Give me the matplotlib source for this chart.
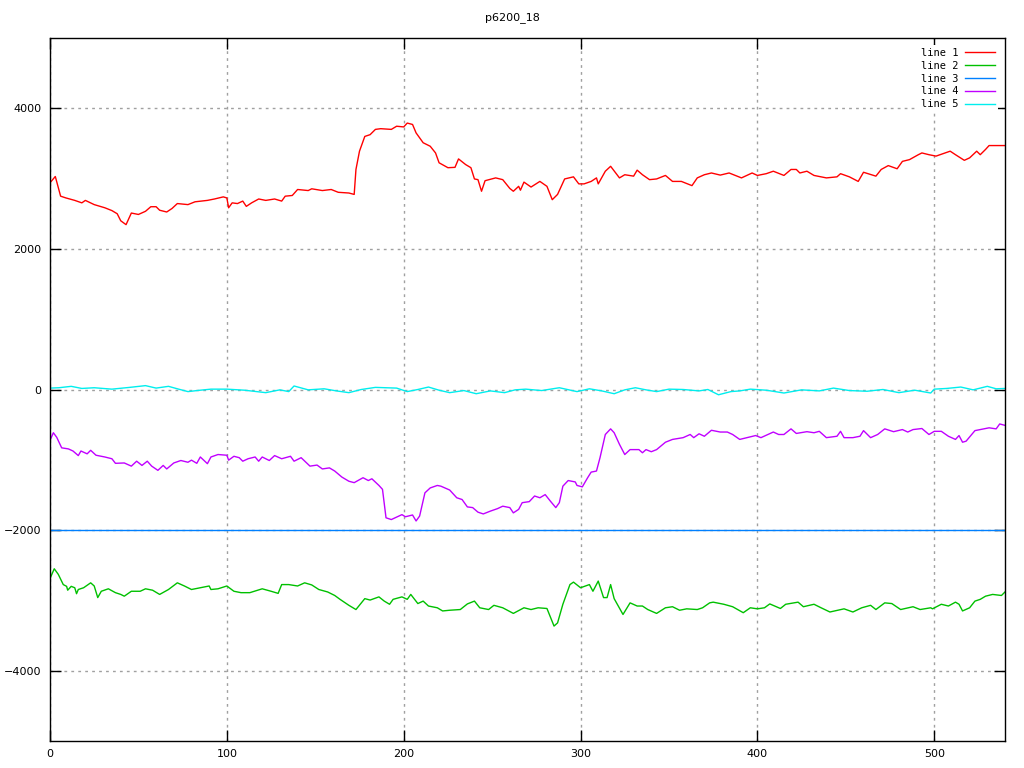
import matplotlib
matplotlib.use("Agg")
import matplotlib.pyplot as plt

TITLE = "p6200_18"

# line 1 (red)
x1 = [0, 3, 6, 9, 14, 18, 20, 25, 31, 35, 38, 40, 43, 46, 50, 54, 57, 60, 62, 66,
      69, 72, 78, 82, 89, 93, 98, 100, 101, 103, 106, 109, 111, 114, 118, 122, 127,
      131, 133, 137, 140, 146, 148, 154, 159, 163, 169, 172, 173, 175, 178, 181, 184,
      187, 193, 196, 200, 202, 205, 207, 211, 215, 218, 220, 225, 229, 231, 235, 238,
      240, 242, 244, 246, 252, 256, 260, 262, 265, 266, 268, 272, 277, 281, 284, 287,
      291, 296, 299, 302, 306, 309, 310, 314, 317, 322, 325, 330, 332, 335, 339, 343,
      348, 352, 357, 363, 366, 370, 374, 379, 384, 391, 397, 400, 405, 409, 415, 419,
      422, 424, 428, 432, 439, 445, 447, 452, 457, 460, 467, 470, 474, 479, 482, 486,
      491, 493, 497, 501, 505, 509, 512, 517, 520, 524, 526, 529, 531, 535, 540]
y1 = [2940, 3030, 2750, 2725, 2690, 2655, 2690, 2630, 2585, 2545, 2500, 2400, 2345,
      2510, 2490, 2535, 2600, 2600, 2550, 2525, 2575, 2645, 2630, 2670, 2690, 2710,
      2740, 2725, 2585, 2655, 2645, 2680, 2605, 2655, 2710, 2690, 2710, 2680, 2750,
      2760, 2845, 2830, 2855, 2830, 2845, 2805, 2795, 2775, 3130, 3390, 3600, 3625,
      3700, 3710, 3700, 3745, 3735, 3790, 3770, 3650, 3510, 3460, 3365, 3225, 3155,
      3160, 3280, 3200, 3155, 2995, 2985, 2820, 2970, 3010, 2985, 2860, 2820, 2890,
      2835, 2950, 2880, 2960, 2890, 2700, 2775, 2995, 3025, 2925, 2925, 2960, 3010,
      2925, 3105, 3175, 3010, 3055, 3035, 3120, 3055, 2985, 2995, 3045, 2960, 2960,
      2900, 3010, 3055, 3080, 3050, 3080, 3010, 3080, 3045, 3070, 3105, 3045, 3130,
      3130, 3080, 3105, 3045, 3010, 3025, 3070, 3025, 2960, 3090, 3035, 3130, 3185,
      3140, 3245, 3270, 3340, 3365, 3340, 3320, 3355, 3390, 3340, 3260, 3295, 3390,
      3340, 3415, 3470, 3470, 3470]

# line 2 (green)
x2 = [0, 2.4, 4.7, 7.5, 9.4, 10, 12, 14, 15, 16, 19, 23, 25, 27, 29, 33, 37, 40, 42,
      46, 51, 54, 58, 62, 67, 72, 76, 80, 85, 90, 91, 95, 100, 104, 108, 113, 120,
      125, 129, 131, 135, 140, 144, 148, 152, 157, 161, 164, 169, 173, 178, 181, 186,
      189, 192, 194, 199, 202, 204, 208, 211, 214, 219, 222, 226, 232, 236, 240, 243,
      248, 251, 256, 262, 268, 272, 276, 281, 285, 287, 290, 294, 296, 300, 305, 307,
      310, 313, 315, 317, 319, 324, 328, 332, 335, 338, 343, 348, 352, 356, 360, 366,
      369, 373, 375, 381, 386, 392, 396, 400, 404, 407, 413, 416, 423, 426, 432, 436,
      441, 449, 454, 459, 464, 467, 472, 476, 481, 488, 492, 498, 499, 504, 508, 512,
      514, 516, 520, 523, 526, 529, 533, 538, 540]
y2 = [-2690, -2550, -2630, -2775, -2800, -2855, -2800, -2820, -2905, -2845, -2820,
      -2750, -2795, -2960, -2870, -2835, -2890, -2915, -2940,
      -2870, -2870, -2835, -2855, -2915, -2845, -2750, -2795, -2845, -2820, -2795,
      -2845, -2835, -2795, -2870, -2890, -2890, -2835,
      -2870, -2900, -2775, -2775, -2795, -2750, -2780, -2845, -2880, -2930, -2985,
      -3070, -3130, -2975, -2995, -2950,
      -3010, -3055, -2985, -2950, -2985, -2915, -3045, -3010, -3080, -3105, -3150,
      -3140, -3130, -3050, -3010, -3105,
      -3130, -3070, -3105, -3185, -3105, -3130, -3105, -3115, -3365, -3320, -3055,
      -2775, -2740, -2820, -2775, -2870,
      -2725, -2960, -2960, -2775, -2975, -3200, -3035, -3080, -3080, -3130, -3185,
      -3105, -3090, -3140, -3120, -3130,
      -3105, -3035, -3025, -3055, -3090, -3175, -3105, -3120, -3105, -3050, -3115,
      -3055, -3025, -3090, -3055, -3105,
      -3165, -3120, -3165, -3105, -3070, -3130, -3035, -3045, -3130, -3090, -3130,
      -3105, -3120, -3055, -3080, -3025,
      -3055, -3150, -3105, -3010, -2985, -2940, -2915, -2930, -2880]

# line 3 (blue, constant)
x3 = [0, 540]
y3 = [-2000, -2000]

# line 4 (purple)
x4 = [0, 1.9, 3.8, 6.6, 10.4, 13, 16, 17.5, 21, 23, 26, 31, 35, 37, 42, 46, 49, 52,
      55, 57.5, 61, 64, 66, 70, 74, 78, 80, 83, 85, 89, 91, 95, 100, 101, 104, 107,
      109, 112, 116, 118, 120, 124, 127, 131, 136, 138, 142, 147, 151, 154, 158, 161,
      165, 169, 172, 177, 180, 182, 186, 188, 190, 193, 199, 201, 205, 207, 209, 212,
      215, 219, 221, 226, 230, 233, 236, 239, 242, 245, 249, 253, 256, 260, 262, 265,
      267, 271, 274, 277, 280, 283, 286, 288, 290, 293, 297, 298, 301, 304, 306, 309,
      311, 314, 317, 319, 322, 325, 328, 333, 335, 337, 340, 343, 348, 352, 358, 362,
      364, 367, 370, 374, 379, 383, 386, 390, 395, 399, 402, 409, 412, 415, 419, 422,
      428, 432, 435, 439, 445, 447, 449, 454, 458, 460, 464, 468, 472, 477, 482, 485,
      488, 493, 497, 500, 504, 508, 512, 514, 516, 518, 523, 528, 531, 535, 537, 540]
y4 = [-725, -615, -680, -830, -845, -875, -940, -875, -915, -865, -935, -960, -985,
      -1050, -1045, -1090, -1020, -1080, -1020, -1090, -1150, -1080, -1130, -1045,
      -1010, -1035, -1005, -1050, -960, -1055, -960, -925, -935, -1005, -950, -970,
      -1020, -985, -960, -1020, -960, -1010, -940, -985, -950, -1020, -970, -1090,
      -1075, -1130, -1115, -1160, -1245, -1305, -1325, -1255, -1295, -1270, -1365,
      -1420, -1825, -1850, -1780, -1810, -1785, -1870, -1800, -1470, -1400, -1365,
      -1375, -1430, -1540, -1565, -1670, -1680, -1745, -1770, -1730, -1695, -1660,
      -1680, -1755, -1705, -1610, -1595, -1515, -1540, -1495, -1590, -1680, -1610,
      -1375, -1295, -1315, -1365, -1385, -1255, -1175, -1160, -970, -640, -560, -615,
      -780, -925, -855, -855, -900, -855, -885, -855, -750, -710, -685, -640, -685,
      -630, -665, -580, -605, -605, -640, -710, -680, -655, -685, -605, -640, -640,
      -560, -625, -600, -615, -595, -685, -665, -595, -685, -685, -665, -585, -685,
      -640, -560, -600, -570, -605, -570, -555, -640, -595, -595, -665, -710, -655,
      -750, -735, -585, -560, -545, -560, -490, -510]

# line 5 (cyan)
x5 = [0, 5, 12, 18, 25, 35, 45, 54, 60, 67, 72, 78, 85, 91, 100, 110, 122, 130, 135,
      138, 146, 155, 162, 169, 176, 184, 190, 196, 202, 208, 214, 220, 226, 234, 241,
      249, 257, 263, 269, 278, 288, 298, 305, 312, 319, 325, 331, 337, 343, 350, 358,
      367, 372, 378, 385, 390, 396, 405, 415, 425, 435, 443, 452, 462, 471, 480, 489,
      498, 500, 507, 515, 522, 530, 535, 540]
y5 = [20, 25, 45, 15, 25, 5, 30, 55, 20, 45, 10, -30, -10, 5, 5, -10, -45, -5, -30,
      50, -5, 10, -20, -45, 0, 30, 25, 20, -30, 0, 35, -10, -45, -15, -60, -20, -45,
      -5, 5, -15, 25, -30, 10, -20, -60, -5, 25, -5, -30, 5, 0, -20, 0, -75, -30, -20,
      5, -10, -50, -5, -20, 20, -15, -25, 0, -45, -10, -50, 5, 15, 35, -5, 45, 10, 15]

plt.rcParams["font.family"] = "DejaVu Sans"
fig = plt.figure(figsize=(10.24, 7.68), dpi=100)
ax = fig.add_axes([50 / 1024, 1 - 741 / 768, 955 / 1024, 703 / 768])

ax.plot(x1, y1, color="#ff0000", lw=1, label="line 1")
ax.plot(x2, y2, color="#00c000", lw=1, label="line 2")
ax.plot(x3, y3, color="#0080ff", lw=1, label="line 3")
ax.plot(x4, y4, color="#c000ff", lw=1, label="line 4")
ax.plot(x5, y5, color="#00eeee", lw=1, label="line 5")

ax.set_xlim(0, 540)
ax.set_ylim(-5000, 5000)
ax.set_xticks([0, 100, 200, 300, 400, 500])
ax.set_yticks([-4000, -2000, 0, 2000, 4000])
ax.tick_params(direction="in", length=8, width=1, labelsize=8,
               top=True, right=True, pad=6)
ax.grid(True, color="#a0a0a0", linestyle=(0, (2, 3)), linewidth=1)
for s in ax.spines.values():
    s.set_linewidth(1)

fig.text(0.5, 1 - 18 / 768, TITLE, ha="center", va="center", fontsize=8)

leg = ax.legend(loc="upper right", frameon=True, facecolor="white",
                edgecolor="none", framealpha=1, fancybox=False,
                markerfirst=False,
                prop={"family": "DejaVu Sans Mono", "size": 7.5},
                handlelength=2.9, labelspacing=0.27, borderaxespad=0.65,
                borderpad=0.3, handletextpad=0.6)

fig.savefig("out.png", dpi=100)
